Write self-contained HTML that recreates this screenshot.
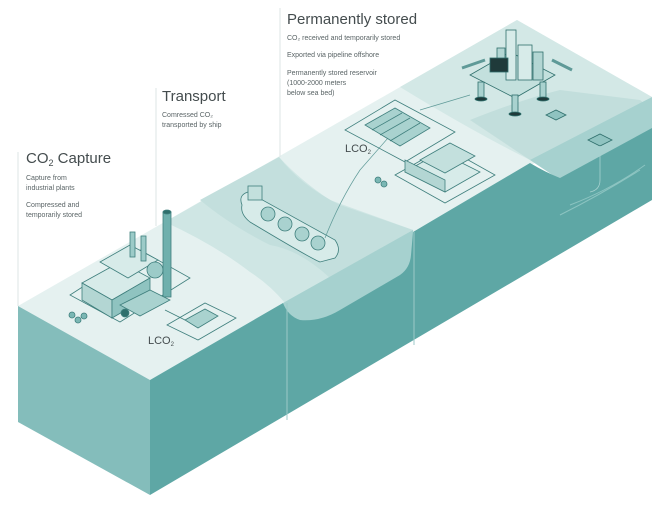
<!DOCTYPE html>
<html><head><meta charset="utf-8"><style>
html,body{margin:0;padding:0;background:#fff;width:665px;height:509px;overflow:hidden}
svg{display:block}
text{font-family:"Liberation Sans",sans-serif;fill:#444c4e}
.s{font-size:7px;fill:#5a6466}
</style></head><body>
<svg width="665" height="509" viewBox="0 0 665 509" xmlns="http://www.w3.org/2000/svg">
<polygon points="18,306 517,20 652,97 150,380" fill="#e5f1f0"/>
<path d="M165,222 L279,157 Q300,180 330,200 L413,230 L285,303 Q270,285 250,272 Q215,245 165,222 Z" fill="#cfe6e4"/>
<path d="M200,200 L279,157 Q300,185 340,205 L413,230 L330,278 Q300,250 270,245 Q230,225 200,200Z" fill="#c3dfdd"/>
<path d="M400,87 L517,20 L652,97 L530,160 Q470,130 400,87 Z" fill="#d3e8e6"/>
<path d="M470,120 Q520,100 560,90 L640,100 L652,110 L652,128 L560,176 Q545,165 530,160 Q500,140 470,120Z" fill="#c2dedc"/>
<polygon points="18,306 150,380 150,495 18,422" fill="#84bdbb"/>
<polygon points="283,303 413,230 413,300 285,330" fill="#a6d1cf"/>
<polygon points="530,160 652,97 652,140 560,180" fill="#a6d1cf"/>
<path d="M150,380 L283,303 Q288,316 300,320 Q320,322 340,310 L400,275 Q410,268 411,255 L413,232 L530,163 Q545,172 560,178 L652,128 L652,200 L150,495 Z" fill="#5ea7a5"/>
<line x1="287" y1="303" x2="287" y2="420" stroke="#9ccac8" stroke-width="1"/>
<line x1="414" y1="232" x2="414" y2="345" stroke="#9ccac8" stroke-width="1"/>
<line x1="18" y1="152" x2="18" y2="306" stroke="#dde5e5" stroke-width="1"/>
<line x1="156" y1="88" x2="156" y2="226" stroke="#dde5e5" stroke-width="1"/>
<line x1="280" y1="8" x2="280" y2="157" stroke="#dde5e5" stroke-width="1"/>
<g stroke="#3f7f7d" stroke-width="0.8" fill="#d7ebe9">
<polygon points="70,295 140,250 190,278 120,322" fill="none"/>
<polygon points="82,283 120,262 150,278 112,300"/>
<polygon points="82,283 112,300 112,318 82,300" fill="#b3d6d3"/>
<polygon points="112,300 150,278 150,296 112,318" fill="#8fc3c0"/>
<polygon points="100,262 130,245 158,260 128,278"/>
<rect x="130" y="232" width="5" height="25" fill="#9ccbc8"/>
<rect x="141" y="236" width="5" height="25" fill="#9ccbc8"/>
<circle cx="155" cy="270" r="8" fill="#9ccbc8"/>
<rect x="163" y="212" width="8" height="85" fill="#6fb0ad"/>
<ellipse cx="167" cy="212" rx="4" ry="2" fill="#2f6f6c"/>
<polygon points="120,305 150,290 170,300 140,316" fill="#a9d2cf"/>
<circle cx="125" cy="313" r="4" fill="#2f6f6c"/>
<circle cx="72" cy="315" r="3" fill="#7ab7b4"/><circle cx="78" cy="320" r="3" fill="#7ab7b4"/><circle cx="84" cy="316" r="3" fill="#7ab7b4"/>
<polygon points="167,325 205,303 236,318 198,340" fill="none"/>
<polygon points="185,320 205,309 218,316 198,328" fill="#a9d2cf"/>
<line x1="165" y1="310" x2="185" y2="320" fill="none"/>
</g>
<g stroke="#3f7f7d" stroke-width="0.8">
<path d="M242,205 Q238,195 248,192 L335,240 Q342,250 335,258 L320,262 Q310,258 250,222 Q240,214 242,205Z" fill="#d7ebe9"/>
<circle cx="268" cy="214" r="7" fill="#a9d2cf"/><circle cx="285" cy="224" r="7" fill="#a9d2cf"/>
<circle cx="302" cy="234" r="7" fill="#a9d2cf"/><circle cx="318" cy="243" r="7" fill="#a9d2cf"/>
<rect x="248" y="186" width="14" height="14" fill="#c3e0dd"/>
</g>
<path d="M325,238 Q340,200 360,170 L395,130" stroke="#5f9a98" fill="none" stroke-width="0.7"/>
<path d="M420,110 L470,95" stroke="#5f9a98" fill="none" stroke-width="0.7"/>
<g stroke="#3f7f7d" stroke-width="0.8">
<polygon points="345,130 395,100 455,132 405,162" fill="none"/>
<polygon points="365,125 395,108 430,128 400,146" fill="#a9d2cf"/>
<line x1="372" y1="130" x2="402" y2="113"/><line x1="380" y1="135" x2="410" y2="118"/><line x1="390" y1="141" x2="420" y2="123"/>
<polygon points="395,175 445,147 495,175 445,203" fill="none"/>
<polygon points="405,172 440,152 480,172 445,192" fill="#d7ebe9"/>
<polygon points="405,172 445,192 445,180 405,160" fill="#b3d6d3"/>
<polygon points="420,160 450,143 475,156 445,173" fill="#c3e0dd"/>
<circle cx="378" cy="180" r="3" fill="#7ab7b4"/><circle cx="384" cy="184" r="3" fill="#7ab7b4"/>
</g>
<g stroke="#2f6f6c" stroke-width="0.8">
<polygon points="470,75 510,52 555,75 515,98" fill="#c3e0dd"/>
<rect x="506" y="30" width="10" height="50" fill="#d7ebe9"/>
<rect x="518" y="45" width="14" height="35" fill="#d7ebe9"/>
<rect x="533" y="52" width="10" height="28" fill="#b3d6d3"/>
<rect x="497" y="48" width="8" height="20" fill="#b3d6d3"/>
<rect x="490" y="58" width="18" height="14" fill="#1f3a3a"/>
<path d="M462,68 L485,60 M552,60 L572,70" stroke="#5f9a98" stroke-width="3"/>
<rect x="478" y="82" width="6" height="16" fill="#a9d2cf"/>
<rect x="540" y="82" width="6" height="16" fill="#a9d2cf"/>
<rect x="512" y="95" width="6" height="18" fill="#a9d2cf"/>
<ellipse cx="481" cy="99" rx="6" ry="2" fill="#1f3a3a"/><ellipse cx="543" cy="99" rx="6" ry="2" fill="#1f3a3a"/><ellipse cx="515" cy="114" rx="6" ry="2" fill="#1f3a3a"/>
<polygon points="546,115 556,110 566,115 556,120" fill="#8fc3c0"/>
<polygon points="588,140 600,134 612,140 600,146" fill="#8fc3c0"/>
</g>
<path d="M600,146 L600,180 Q600,190 590,192" stroke="#a6d1cf" fill="none" stroke-width="0.8"/>
<path d="M560,215 Q600,195 640,170 M570,205 Q610,190 645,165" stroke="#8cc4c1" fill="none" stroke-width="1"/>
<text x="287" y="24" font-size="15">Permanently stored</text>
<text class="s" x="287" y="40">CO₂ received and temporarily stored</text>
<text class="s" x="287" y="57">Exported via pipeline offshore</text>
<text class="s" x="287" y="75">Permanently stored reservoir</text>
<text class="s" x="287" y="85">(1000-2000 meters</text>
<text class="s" x="287" y="95">below sea bed)</text>
<text x="162" y="101" font-size="15">Transport</text>
<text class="s" x="162" y="117">Comressed CO₂</text>
<text class="s" x="162" y="127">transported by ship</text>
<text x="26" y="163" font-size="15">CO<tspan font-size="9" dy="3">2</tspan><tspan dy="-3"> Capture</tspan></text>
<text class="s" x="26" y="180">Capture from</text>
<text class="s" x="26" y="190">industrial plants</text>
<text class="s" x="26" y="207">Compressed and</text>
<text class="s" x="26" y="217">temporarily stored</text>
<text x="148" y="344" font-size="11">LCO<tspan font-size="6" dy="2">2</tspan></text>
<text x="345" y="152" font-size="11">LCO<tspan font-size="6" dy="2">2</tspan></text>
</svg>
</body></html>
